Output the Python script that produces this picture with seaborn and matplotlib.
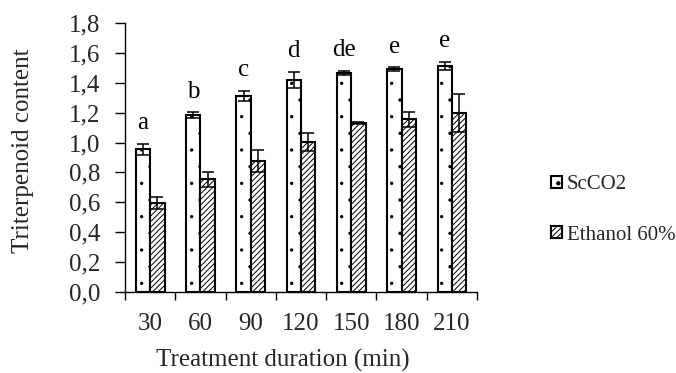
import matplotlib
matplotlib.use("Agg")
import matplotlib.pyplot as plt
import seaborn as sns
import pandas as pd
import numpy as np
from matplotlib.patches import Patch, Rectangle

durations = ["30", "60", "90", "120", "150", "180", "210"]
scco2 = [0.955, 1.185, 1.315, 1.42, 1.467, 1.492, 1.512]
scco2_err = [0.035, 0.018, 0.033, 0.055, 0.015, 0.012, 0.028]
ethanol = [0.593, 0.754, 0.875, 1.004, 1.131, 1.156, 1.199]
ethanol_err = [0.04, 0.05, 0.075, 0.058, 0.004, 0.05, 0.125]
letters = ["a", "b", "c", "d", "de", "e", "e"]
series = ["ScCO2", "Ethanol 60%"]

df = pd.DataFrame({
    "duration": durations * 2,
    "value": scco2 + ethanol,
    "method": [series[0]] * len(durations) + [series[1]] * len(durations),
})

sns.set_theme(style="white")
plt.rcParams["font.family"] = ["Liberation Serif", "DejaVu Serif"]
plt.rcParams["hatch.linewidth"] = 0.7

fig = plt.figure(figsize=(6.76, 3.73), dpi=100)
ax = fig.add_axes([0.185, 0.218, 0.5206, 0.7195])

sns.barplot(data=df, x="duration", y="value", hue="method", order=durations,
            hue_order=series, errorbar=None, width=0.57, gap=0,
            palette=["white", "white"], edgecolor="black", linewidth=1.5,
            legend=False, ax=ax)

hatches = [".", "//////"]
hatch_lw = [0.0, 0.7]
errs = [scco2_err, ethanol_err]
xs = [[None] * len(durations) for _ in series]
hs = [[None] * len(durations) for _ in series]


def style_patch(p, hi):
    p.set_hatch(hatches[hi])
    p.set_edgecolor("black")
    p.set_facecolor("white")
    if hasattr(p, "set_hatch_linewidth"):
        p.set_hatch_linewidth(hatch_lw[hi])
    else:
        p._hatch_linewidth = hatch_lw[hi]


for bar in ax.patches:
    if not isinstance(bar, Rectangle):
        continue
    cx = bar.get_x() + bar.get_width() / 2
    cat = int(round(cx))
    hi = 0 if cx < cat else 1
    style_patch(bar, hi)
    xs[hi][cat] = cx
    hs[hi][cat] = bar.get_height()

for hi in range(len(series)):
    ax.errorbar(xs[hi], hs[hi], yerr=errs[hi], fmt="none", ecolor="black",
                elinewidth=1.1, capsize=4.3, capthick=1.1, zorder=5)
for x, h, e, lab in zip(xs[0], hs[0], errs[0], letters):
    ax.text(x, h + e + 0.065, lab, ha="center", va="bottom",
            fontsize=18, color="black")

ax.set_ylim(0, 1.8)
ax.set_xlim(-0.5, len(durations) - 0.5)
yt = np.arange(0, 1.81, 0.2)
ax.set_yticks(yt)
ax.set_yticklabels([f"{v:.1f}".replace(".", ",") for v in yt], fontsize=18)
ax.set_xticks(np.arange(-0.5, len(durations), 1.0))
ax.set_xticklabels([])
ax.set_xticks(np.arange(len(durations)), minor=True)
ax.set_xticklabels(durations, minor=True, fontsize=18)
ax.tick_params(axis="x", which="major", direction="out", length=6, width=1.0,
               color="black", bottom=True)
ax.tick_params(axis="x", which="minor", length=0, pad=15, bottom=True)
ax.tick_params(axis="y", direction="out", length=7, width=1.0, color="black",
               pad=11, left=True)

for s in ["top", "right"]:
    ax.spines[s].set_visible(False)
for s in ["left", "bottom"]:
    ax.spines[s].set_color("black")
    ax.spines[s].set_linewidth(1.0)

ax.set_ylabel("Triterpenoid content", fontsize=18)
ax.yaxis.set_label_coords(-0.258, 0.524)
ax.set_xlabel("Treatment duration (min)", fontsize=18)
ax.xaxis.set_label_coords(0.449, -0.212)

handles = []
for hi in range(len(series)):
    p = Patch(linewidth=1.5)
    style_patch(p, hi)
    handles.append(p)
fig.legend(handles, series, loc="upper left", bbox_to_anchor=(0.815, 0.53),
           frameon=False, fontsize=15, handlelength=0.55, handleheight=0.55,
           handletextpad=0.2, labelspacing=1.5, borderpad=0, borderaxespad=0)

fig.savefig("out.png", dpi=100)
